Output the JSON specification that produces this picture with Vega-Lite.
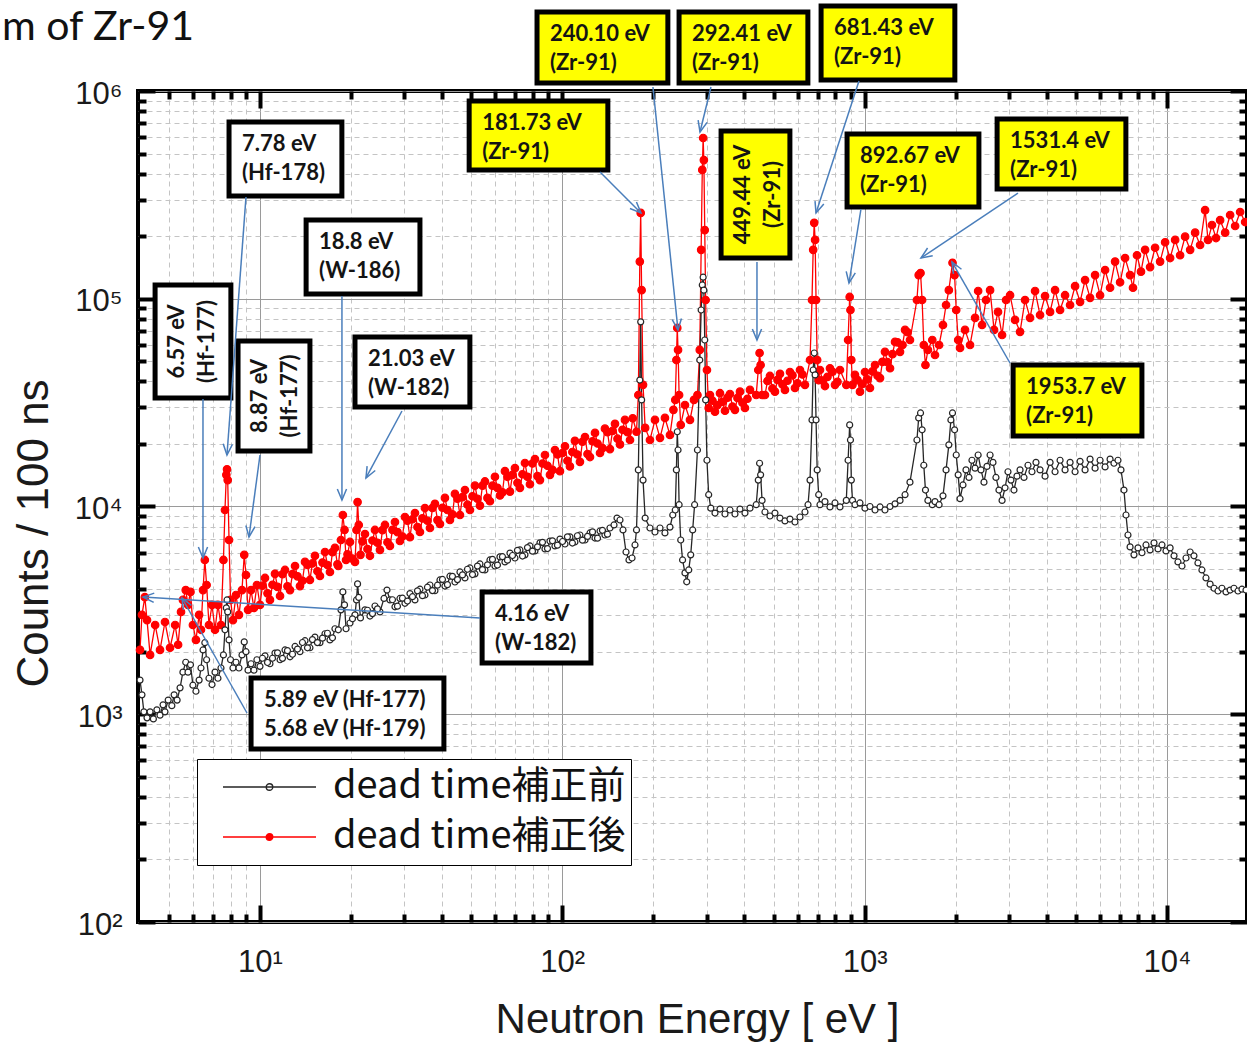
{
"$schema": "https://vega.github.io/schema/vega-lite/v6.json",
"width": 1109, "height": 831,
"autosize": "none",
"padding": {"left": 138, "top": 91, "right": 0, "bottom": 122},
"background": "white",
"title": {"text": "m of Zr-91", "anchor": "start", "frame": "group", "dx": -136, "offset": -78, "baseline": "alphabetic", "font": "Lato", "fontSize": 41, "fontWeight": "normal", "color": "#111111"},
"config": {
  "view": {"stroke": "black", "strokeWidth": 4},
  "axis": {"domain": false, "labelColor": "#1a1a1a", "titleColor": "#1a1a1a", "tickColor": "#000000", "tickCap": "butt"}
},
"resolve": {"axis": {"x": "independent", "y": "independent"}},
"datasets": {
"spec": [
{"E":4.01,"C":2040,"s":"後"},{"E":4.07,"C":3010,"s":"後"},{"E":4.16,"C":3660,"s":"後"},{"E":4.23,"C":2840,"s":"後"},{"E":4.33,"C":1930,"s":"後"},{"E":4.50,"C":2690,"s":"後"},{"E":4.67,"C":2040,"s":"後"},{"E":4.85,"C":2780,"s":"後"},{"E":5.04,"C":2090,"s":"後"},{"E":5.24,"C":2690,"s":"後"},{"E":5.36,"C":2160,"s":"後"},{"E":5.48,"C":3110,"s":"後"},{"E":5.56,"C":3550,"s":"後"},{"E":5.68,"C":3960,"s":"後"},{"E":5.78,"C":3360,"s":"後"},{"E":5.89,"C":3880,"s":"後"},{"E":6.00,"C":2690,"s":"後"},{"E":6.14,"C":2280,"s":"後"},{"E":6.29,"C":3010,"s":"後"},{"E":6.38,"C":2550,"s":"後"},{"E":6.48,"C":3960,"s":"後"},{"E":6.57,"C":5530,"s":"後"},{"E":6.66,"C":4190,"s":"後"},{"E":6.78,"C":2690,"s":"後"},{"E":6.94,"C":3360,"s":"後"},{"E":7.10,"C":2550,"s":"後"},{"E":7.26,"C":3360,"s":"後"},{"E":7.43,"C":2690,"s":"後"},{"E":7.57,"C":5530,"s":"後"},{"E":7.66,"C":9620,"s":"後"},{"E":7.74,"C":14200,"s":"後"},{"E":7.78,"C":15100,"s":"後"},{"E":7.82,"C":13400,"s":"後"},{"E":7.90,"C":6900,"s":"後"},{"E":7.99,"C":3550,"s":"後"},{"E":8.14,"C":2840,"s":"後"},{"E":8.33,"C":3750,"s":"後"},{"E":8.52,"C":3010,"s":"後"},{"E":8.72,"C":3960,"s":"後"},{"E":8.87,"C":5850,"s":"後"},{"E":8.99,"C":4680,"s":"後"},{"E":9.13,"C":3180,"s":"後"},{"E":9.34,"C":3960,"s":"後"},{"E":9.55,"C":3250,"s":"後"},{"E":9.77,"C":4190,"s":"後"},{"E":10.0,"C":3360,"s":"後"},
{"E":10.39,"C":4530,"s":"後"},{"E":10.79,"C":3550,"s":"後"},{"E":11.21,"C":4740,"s":"後"},{"E":11.65,"C":3710,"s":"後"},{"E":12.10,"C":4950,"s":"後"},{"E":12.57,"C":3960,"s":"後"},{"E":13.06,"C":5170,"s":"後"},{"E":13.56,"C":4140,"s":"後"},{"E":14.09,"C":5410,"s":"後"},{"E":14.63,"C":4430,"s":"後"},{"E":15.20,"C":5790,"s":"後"},{"E":15.79,"C":4630,"s":"後"},{"E":16.41,"C":6040,"s":"後"},{"E":17.04,"C":4840,"s":"後"},{"E":17.70,"C":6320,"s":"後"},{"E":18.16,"C":5170,"s":"後"},{"E":18.53,"C":6900,"s":"後"},{"E":18.8,"C":9100,"s":"後"},{"E":19.04,"C":7710,"s":"後"},{"E":19.26,"C":5530,"s":"後"},{"E":19.85,"C":6750,"s":"後"},{"E":20.62,"C":5410,"s":"後"},{"E":20.86,"C":7710,"s":"後"},{"E":21.03,"C":10500,"s":"後"},{"E":21.22,"C":8150,"s":"後"},{"E":21.50,"C":5850,"s":"後"},{"E":22.25,"C":7370,"s":"後"},{"E":23.11,"C":5790,"s":"後"},{"E":24.01,"C":7710,"s":"後"},{"E":24.94,"C":6180,"s":"後"},{"E":25.91,"C":8150,"s":"後"},{"E":26.91,"C":6460,"s":"後"},{"E":27.96,"C":8420,"s":"後"},{"E":29.04,"C":6820,"s":"後"},{"E":30.17,"C":8900,"s":"後"},{"E":31.34,"C":7120,"s":"後"},{"E":32.56,"C":9300,"s":"後"},{"E":33.82,"C":7540,"s":"後"},{"E":35.13,"C":9830,"s":"後"},{"E":36.50,"C":7880,"s":"後"},{"E":37.91,"C":10300,"s":"後"},{"E":39.39,"C":8240,"s":"後"},{"E":40.91,"C":11000,"s":"後"},{"E":42.50,"C":8610,"s":"後"},{"E":44.15,"C":11500,"s":"後"},{"E":45.87,"C":9100,"s":"後"},{"E":47.65,"C":12000,"s":"後"},{"E":49.50,"C":9620,"s":"後"},{"E":51.42,"C":12600,"s":"後"},{"E":53.41,"C":10100,"s":"後"},{"E":55.49,"C":13200,"s":"後"},{"E":57.64,"C":10600,"s":"後"},{"E":59.88,"C":13900,"s":"後"},{"E":62.20,"C":11300,"s":"後"},{"E":64.62,"C":14800,"s":"後"},{"E":67.13,"C":11800,"s":"後"},{"E":69.73,"C":15300,"s":"後"},{"E":72.44,"C":12300,"s":"後"},{"E":75.25,"C":16200,"s":"後"},{"E":78.17,"C":12800,"s":"後"},{"E":81.21,"C":16900,"s":"後"},{"E":84.36,"C":13400,"s":"後"},{"E":87.64,"C":17700,"s":"後"},{"E":91.04,"C":14200,"s":"後"},{"E":94.57,"C":18700,"s":"後"},{"E":98.25,"C":14800,"s":"後"},{"E":102.1,"C":19500,"s":"後"},{"E":106.0,"C":15600,"s":"後"},{"E":110.1,"C":20700,"s":"後"},{"E":114.4,"C":16400,"s":"後"},{"E":118.9,"C":21600,"s":"後"},{"E":123.5,"C":17300,"s":"後"},{"E":128.3,"C":22600,"s":"後"},{"E":133.3,"C":18100,"s":"後"},{"E":138.4,"C":23700,"s":"後"},{"E":143.8,"C":18900,"s":"後"},{"E":149.4,"C":25000,"s":"後"},{"E":155.2,"C":19900,"s":"後"},{"E":161.2,"C":26100,"s":"後"},{"E":167.5,"C":20900,"s":"後"},{"E":171.0,"C":26600,"s":"後"},
{"E":176.0,"C":22900,"s":"後"},{"E":178.5,"C":34400,"s":"後"},{"E":180.5,"C":151000,"s":"後"},{"E":181.73,"C":259000,"s":"後"},{"E":183.0,"C":110000,"s":"後"},{"E":185.0,"C":38500,"s":"後"},{"E":188.0,"C":23900,"s":"後"},{"E":195.0,"C":20900,"s":"後"},{"E":202.6,"C":26100,"s":"後"},{"E":210.5,"C":21400,"s":"後"},{"E":218.6,"C":26700,"s":"後"},{"E":227.1,"C":22100,"s":"後"},{"E":233.2,"C":29200,"s":"後"},{"E":236.5,"C":32600,"s":"後"},{"E":238.5,"C":50700,"s":"後"},{"E":240.1,"C":72400,"s":"後"},{"E":241.5,"C":56700,"s":"後"},{"E":243.5,"C":34400,"s":"後"},{"E":246.5,"C":24700,"s":"後"},{"E":254.6,"C":30800,"s":"後"},{"E":264.5,"C":26100,"s":"後"},{"E":272.7,"C":32600,"s":"後"},{"E":280.0,"C":34400,"s":"後"},{"E":285.0,"C":56700,"s":"後"},{"E":288.0,"C":172000,"s":"後"},{"E":290.5,"C":417000,"s":"後"},{"E":292.41,"C":594000,"s":"後"},{"E":294.0,"C":465000,"s":"後"},{"E":296.0,"C":214000,"s":"後"},{"E":298.0,"C":98600,"s":"後"},{"E":301.0,"C":45400,"s":"後"},{"E":305.0,"C":29800,"s":"後"},{"E":308.0,"C":34400,"s":"後"},{"E":320.0,"C":28600,"s":"後"},{"E":332.4,"C":35100,"s":"後"},{"E":345.3,"C":28900,"s":"後"},{"E":358.7,"C":34800,"s":"後"},{"E":372.6,"C":29200,"s":"後"},{"E":387.1,"C":35700,"s":"後"},{"E":402.1,"C":29800,"s":"後"},{"E":417.7,"C":36400,"s":"後"},{"E":438.0,"C":34400,"s":"後"},{"E":445.0,"C":45400,"s":"後"},{"E":449.44,"C":54800,"s":"後"},{"E":453.0,"C":48000,"s":"後"},{"E":458.0,"C":34400,"s":"後"},{"E":468.3,"C":34400,"s":"後"},{"E":486.4,"C":42500,"s":"後"},{"E":505.3,"C":35700,"s":"後"},{"E":525.0,"C":43500,"s":"後"},{"E":545.3,"C":36400,"s":"後"},{"E":566.5,"C":44400,"s":"後"},{"E":588.5,"C":37200,"s":"後"},{"E":611.4,"C":45400,"s":"後"},{"E":635.1,"C":38500,"s":"後"},{"E":660.0,"C":50700,"s":"後"},{"E":670.0,"C":98600,"s":"後"},{"E":676.0,"C":172000,"s":"後"},{"E":681.43,"C":232000,"s":"後"},{"E":686.0,"C":192000,"s":"後"},{"E":691.0,"C":98600,"s":"後"},{"E":697.0,"C":50700,"s":"後"},{"E":705.0,"C":40600,"s":"後"},{"E":712.0,"C":45400,"s":"後"},{"E":739.6,"C":38000,"s":"後"},{"E":768.3,"C":46300,"s":"後"},{"E":798.2,"C":38500,"s":"後"},{"E":829.2,"C":45400,"s":"後"},{"E":870.0,"C":38500,"s":"後"},{"E":882.0,"C":63300,"s":"後"},{"E":892.67,"C":102000,"s":"後"},{"E":898.0,"C":88300,"s":"後"},{"E":904.0,"C":50700,"s":"後"},{"E":912.0,"C":38500,"s":"後"},{"E":929.5,"C":43000,"s":"後"},{"E":965.6,"C":35700,"s":"後"},{"E":1003,"C":44400,"s":"後"},{"E":1042,"C":37200,"s":"後"},{"E":1083,"C":48000,"s":"後"},{"E":1125,"C":41500,"s":"後"},{"E":1168,"C":55500,"s":"後"},{"E":1214,"C":46300,"s":"後"},{"E":1261,"C":62000,"s":"後"},{"E":1310,"C":55500,"s":"後"},{"E":1361,"C":70800,"s":"後"},{"E":1413,"C":63300,"s":"後"},{"E":1490,"C":98600,"s":"後"},{"E":1510,"C":130000,"s":"後"},{"E":1531.4,"C":133000,"s":"後"},{"E":1550,"C":98600,"s":"後"},{"E":1570,"C":59900,"s":"後"},{"E":1590,"C":48000,"s":"後"},{"E":1620,"C":56700,"s":"後"},{"E":1675,"C":63300,"s":"後"},{"E":1710,"C":53600,"s":"後"},{"E":1764,"C":59900,"s":"後"},{"E":1817,"C":74800,"s":"後"},{"E":1860,"C":93300,"s":"後"},{"E":1900,"C":110000,"s":"後"},{"E":1953.7,"C":149000,"s":"後"},{"E":1985,"C":130000,"s":"後"},{"E":2010,"C":88300,"s":"後"},{"E":2040,"C":63300,"s":"後"},{"E":2069,"C":58000,"s":"後"},{"E":2149,"C":70800,"s":"後"},{"E":2233,"C":59900,"s":"後"},{"E":2320,"C":80900,"s":"後"},{"E":2375,"C":109000,"s":"後"},{"E":2447,"C":74800,"s":"後"},{"E":2522,"C":98600,"s":"後"},{"E":2601,"C":110000,"s":"後"},{"E":2681,"C":70800,"s":"後"},{"E":2763,"C":86400,"s":"後"},{"E":2850,"C":66900,"s":"後"},{"E":2938,"C":98600,"s":"後"},{"E":3029,"C":104000,"s":"後"},{"E":3146,"C":79100,"s":"後"},{"E":3268,"C":69300,"s":"後"},{"E":3395,"C":98600,"s":"後"},{"E":3527,"C":80900,"s":"後"},{"E":3664,"C":109000,"s":"後"},{"E":3806,"C":83500,"s":"後"},{"E":3954,"C":103000,"s":"後"},{"E":4108,"C":86400,"s":"後"},{"E":4267,"C":110000,"s":"後"},{"E":4433,"C":88300,"s":"後"},{"E":4605,"C":104000,"s":"後"},{"E":4784,"C":93300,"s":"後"},{"E":4970,"C":115000,"s":"後"},{"E":5163,"C":96600,"s":"後"},{"E":5363,"C":123000,"s":"後"},{"E":5571,"C":101000,"s":"後"},{"E":5788,"C":130000,"s":"後"},{"E":6012,"C":104000,"s":"後"},{"E":6246,"C":137500,"s":"後"},{"E":6488,"C":113000,"s":"後"},{"E":6740,"C":151000,"s":"後"},{"E":7002,"C":120000,"s":"後"},{"E":7274,"C":157000,"s":"後"},{"E":7556,"C":130000,"s":"後"},{"E":7725,"C":113000,"s":"後"},{"E":7964,"C":162000,"s":"後"},{"E":8210,"C":135000,"s":"後"},{"E":8471,"C":172000,"s":"後"},{"E":8800,"C":142000,"s":"後"},{"E":9142,"C":176000,"s":"後"},{"E":9497,"C":151000,"s":"後"},{"E":9866,"C":187000,"s":"後"},{"E":10250,"C":157000,"s":"後"},{"E":10650,"C":192000,"s":"後"},{"E":11060,"C":162000,"s":"後"},{"E":11490,"C":199000,"s":"後"},{"E":11940,"C":172000,"s":"後"},{"E":12400,"C":208000,"s":"後"},{"E":12880,"C":181500,"s":"後"},{"E":13380,"C":267000,"s":"後"},{"E":13680,"C":192000,"s":"後"},{"E":14100,"C":226500,"s":"後"},{"E":14540,"C":196000,"s":"後"},{"E":15000,"C":239000,"s":"後"},{"E":15590,"C":208000,"s":"後"},{"E":16190,"C":253000,"s":"後"},{"E":16820,"C":224000,"s":"後"},{"E":17470,"C":261500,"s":"後"},{"E":18150,"C":234000,"s":"後"},
{"E":10.19,"C":4160,"s":"後"},{"E":10.59,"C":3820,"s":"後"},{"E":11.00,"C":4200,"s":"後"},{"E":11.43,"C":4100,"s":"後"},{"E":11.87,"C":4720,"s":"後"},{"E":12.33,"C":4130,"s":"後"},{"E":12.81,"C":4730,"s":"後"},{"E":13.31,"C":4610,"s":"後"},{"E":13.82,"C":4390,"s":"後"},{"E":14.36,"C":5240,"s":"後"},{"E":14.91,"C":5320,"s":"後"},{"E":15.49,"C":4880,"s":"後"},{"E":16.10,"C":5370,"s":"後"},{"E":16.72,"C":5230,"s":"後"},{"E":17.37,"C":6030,"s":"後"},{"E":18.04,"C":5270,"s":"後"},{"E":19.48,"C":5890,"s":"後"},{"E":20.23,"C":5610,"s":"後"},{"E":21.83,"C":6790,"s":"後"},{"E":22.68,"C":6240,"s":"後"},{"E":23.56,"C":6860,"s":"後"},{"E":24.47,"C":6690,"s":"後"},{"E":25.42,"C":7700,"s":"後"},{"E":26.41,"C":6730,"s":"後"},{"E":27.43,"C":7720,"s":"後"},{"E":28.50,"C":7530,"s":"後"},{"E":29.60,"C":7170,"s":"後"},{"E":30.75,"C":8550,"s":"後"},{"E":31.95,"C":8680,"s":"後"},{"E":33.19,"C":7970,"s":"後"},{"E":34.47,"C":8770,"s":"後"},{"E":35.81,"C":8540,"s":"後"},{"E":37.20,"C":9840,"s":"後"},{"E":38.65,"C":8600,"s":"後"},{"E":40.15,"C":9860,"s":"後"},{"E":41.70,"C":9620,"s":"後"},{"E":43.32,"C":9160,"s":"後"},{"E":45.01,"C":10900,"s":"後"},{"E":46.76,"C":11100,"s":"後"},{"E":48.57,"C":10200,"s":"後"},{"E":50.46,"C":11200,"s":"後"},{"E":52.41,"C":10900,"s":"後"},{"E":54.45,"C":12600,"s":"後"},{"E":56.56,"C":11000,"s":"後"},{"E":58.76,"C":12600,"s":"後"},{"E":61.04,"C":12300,"s":"後"},{"E":63.41,"C":11700,"s":"後"},{"E":65.87,"C":13900,"s":"後"},{"E":68.43,"C":14200,"s":"後"},{"E":71.08,"C":13000,"s":"後"},{"E":73.84,"C":14300,"s":"後"},{"E":76.71,"C":13900,"s":"後"},{"E":79.69,"C":16100,"s":"後"},{"E":82.78,"C":14000,"s":"後"},{"E":86.00,"C":16100,"s":"後"},{"E":89.34,"C":15700,"s":"後"},{"E":92.80,"C":15000,"s":"後"},{"E":96.41,"C":17800,"s":"後"},{"E":100.2,"C":18100,"s":"後"},{"E":104.0,"C":16600,"s":"後"},{"E":108.0,"C":18300,"s":"後"},{"E":112.2,"C":17800,"s":"後"},{"E":116.6,"C":20500,"s":"後"},{"E":121.2,"C":17900,"s":"後"},{"E":125.9,"C":20600,"s":"後"},{"E":130.8,"C":20100,"s":"後"},{"E":135.8,"C":19100,"s":"後"},{"E":141.1,"C":22800,"s":"後"},{"E":146.6,"C":23100,"s":"後"},{"E":152.3,"C":21200,"s":"後"},{"E":158.2,"C":23400,"s":"後"},{"E":164.3,"C":22800,"s":"後"},
{"E":314,"C":32300,"s":"後"},{"E":326,"C":30700,"s":"後"},{"E":338.8,"C":31900,"s":"後"},{"E":352,"C":33400,"s":"後"},{"E":365.6,"C":30300,"s":"後"},{"E":379.8,"C":33300,"s":"後"},{"E":394.5,"C":31600,"s":"後"},{"E":409.8,"C":33000,"s":"後"},{"E":477.3,"C":40200,"s":"後"},{"E":495.8,"C":37000,"s":"後"},{"E":515.1,"C":40700,"s":"後"},{"E":535.1,"C":38700,"s":"後"},{"E":555.8,"C":40300,"s":"後"},{"E":577.4,"C":42800,"s":"後"},{"E":599.9,"C":39200,"s":"後"},{"E":623.1,"C":43200,"s":"後"},{"E":725.7,"C":40400,"s":"後"},{"E":753.9,"C":42100,"s":"後"},{"E":783.2,"C":44500,"s":"後"},{"E":813.6,"C":39800,"s":"後"},{"E":947.4,"C":40600,"s":"後"},{"E":984.2,"C":38900,"s":"後"},{"E":1022,"C":40900,"s":"後"},{"E":1062,"C":44700,"s":"後"},{"E":1104,"C":42600,"s":"後"},{"E":1146,"C":49700,"s":"後"},{"E":1191,"C":49500,"s":"後"},{"E":1237,"C":54100,"s":"後"},{"E":1285,"C":61700,"s":"後"},{"E":1335,"C":59900,"s":"後"},{"E":1387,"C":69000,"s":"後"},
{"E":4.01,"C":1460,"s":"前"},{"E":4.07,"C":1240,"s":"前"},{"E":4.13,"C":1027,"s":"前"},{"E":4.23,"C":961,"s":"前"},{"E":4.33,"C":1027,"s":"前"},{"E":4.44,"C":950,"s":"前"},{"E":4.56,"C":1050,"s":"前"},{"E":4.67,"C":990,"s":"前"},{"E":4.78,"C":1110,"s":"前"},{"E":4.85,"C":1027,"s":"前"},{"E":4.97,"C":1170,"s":"前"},{"E":5.11,"C":1100,"s":"前"},{"E":5.20,"C":1240,"s":"前"},{"E":5.32,"C":1170,"s":"前"},{"E":5.44,"C":1340,"s":"前"},{"E":5.56,"C":1595,"s":"前"},{"E":5.68,"C":1780,"s":"前"},{"E":5.78,"C":1595,"s":"前"},{"E":5.89,"C":1730,"s":"前"},{"E":6.00,"C":1380,"s":"前"},{"E":6.14,"C":1290,"s":"前"},{"E":6.29,"C":1460,"s":"前"},{"E":6.38,"C":1670,"s":"前"},{"E":6.48,"C":2040,"s":"前"},{"E":6.57,"C":2210,"s":"前"},{"E":6.66,"C":1830,"s":"前"},{"E":6.78,"C":1490,"s":"前"},{"E":6.94,"C":1390,"s":"前"},{"E":7.10,"C":1595,"s":"前"},{"E":7.26,"C":1490,"s":"前"},{"E":7.43,"C":1670,"s":"前"},{"E":7.57,"C":1930,"s":"前"},{"E":7.66,"C":2550,"s":"前"},{"E":7.74,"C":3250,"s":"前"},{"E":7.78,"C":3550,"s":"前"},{"E":7.82,"C":3110,"s":"前"},{"E":7.90,"C":2280,"s":"前"},{"E":7.99,"C":1830,"s":"前"},{"E":8.14,"C":1670,"s":"前"},{"E":8.33,"C":1780,"s":"前"},{"E":8.52,"C":1670,"s":"前"},{"E":8.72,"C":1930,"s":"前"},{"E":8.87,"C":2230,"s":"前"},{"E":8.99,"C":2000,"s":"前"},{"E":9.13,"C":1630,"s":"前"},{"E":9.34,"C":1750,"s":"前"},{"E":9.55,"C":1630,"s":"前"},{"E":9.77,"C":1830,"s":"前"},{"E":10.0,"C":1700,"s":"前"},
{"E":10.39,"C":1910,"s":"前"},{"E":10.79,"C":1750,"s":"前"},{"E":11.21,"C":1970,"s":"前"},{"E":11.65,"C":1830,"s":"前"},{"E":12.10,"C":2040,"s":"前"},{"E":12.57,"C":1890,"s":"前"},{"E":13.06,"C":2120,"s":"前"},{"E":13.56,"C":2000,"s":"前"},{"E":14.09,"C":2260,"s":"前"},{"E":14.63,"C":2090,"s":"前"},{"E":15.20,"C":2350,"s":"前"},{"E":15.79,"C":2210,"s":"前"},{"E":16.41,"C":2440,"s":"前"},{"E":17.04,"C":2280,"s":"前"},{"E":17.70,"C":2580,"s":"前"},{"E":18.16,"C":2550,"s":"前"},{"E":18.53,"C":3180,"s":"前"},{"E":18.8,"C":3880,"s":"前"},{"E":19.04,"C":3360,"s":"前"},{"E":19.26,"C":2580,"s":"前"},{"E":19.85,"C":2750,"s":"前"},{"E":20.62,"C":3010,"s":"前"},{"E":20.86,"C":3550,"s":"前"},{"E":21.03,"C":4240,"s":"前"},{"E":21.22,"C":3650,"s":"前"},{"E":21.50,"C":2910,"s":"前"},{"E":22.25,"C":3180,"s":"前"},{"E":23.11,"C":2970,"s":"前"},{"E":24.01,"C":3320,"s":"前"},{"E":24.94,"C":3110,"s":"前"},{"E":25.72,"C":3610,"s":"前"},{"E":26.31,"C":3960,"s":"前"},{"E":26.91,"C":3550,"s":"前"},{"E":27.96,"C":3290,"s":"前"},{"E":29.04,"C":3610,"s":"前"},{"E":30.17,"C":3420,"s":"前"},{"E":31.34,"C":3810,"s":"前"},{"E":32.56,"C":3550,"s":"前"},{"E":33.82,"C":4000,"s":"前"},{"E":35.13,"C":3750,"s":"前"},{"E":36.50,"C":4190,"s":"前"},{"E":37.91,"C":3930,"s":"前"},{"E":39.39,"C":4430,"s":"前"},{"E":40.91,"C":4140,"s":"前"},{"E":42.50,"C":4620,"s":"前"},{"E":44.15,"C":4330,"s":"前"},{"E":45.87,"C":4840,"s":"前"},{"E":47.65,"C":4530,"s":"前"},{"E":49.50,"C":5060,"s":"前"},{"E":51.42,"C":4740,"s":"前"},{"E":53.41,"C":5290,"s":"前"},{"E":55.49,"C":4950,"s":"前"},{"E":57.64,"C":5530,"s":"前"},{"E":59.88,"C":5170,"s":"前"},{"E":62.20,"C":5720,"s":"前"},{"E":64.62,"C":5410,"s":"前"},{"E":67.13,"C":5970,"s":"前"},{"E":69.73,"C":5650,"s":"前"},{"E":72.44,"C":6180,"s":"前"},{"E":75.25,"C":5850,"s":"前"},{"E":78.17,"C":6460,"s":"前"},{"E":81.21,"C":6110,"s":"前"},{"E":84.36,"C":6680,"s":"前"},{"E":87.64,"C":6250,"s":"前"},{"E":91.04,"C":6820,"s":"前"},{"E":94.57,"C":6460,"s":"前"},{"E":98.25,"C":6970,"s":"前"},{"E":102.1,"C":6600,"s":"前"},{"E":106.0,"C":7140,"s":"前"},{"E":110.1,"C":6750,"s":"前"},{"E":114.4,"C":7290,"s":"前"},{"E":118.9,"C":6900,"s":"前"},{"E":123.5,"C":7460,"s":"前"},{"E":128.3,"C":7050,"s":"前"},{"E":133.3,"C":7620,"s":"前"},{"E":138.4,"C":7290,"s":"前"},{"E":143.8,"C":7880,"s":"前"},{"E":148.3,"C":8150,"s":"前"},{"E":151.7,"C":8800,"s":"前"},{"E":155.2,"C":8610,"s":"前"},{"E":158.8,"C":7710,"s":"前"},{"E":162.5,"C":6040,"s":"前"},{"E":166.2,"C":5530,"s":"前"},{"E":170.1,"C":5650,"s":"前"},{"E":174.0,"C":6530,"s":"前"},
{"E":176.0,"C":7710,"s":"前"},{"E":178.5,"C":15000,"s":"前"},{"E":180.5,"C":40600,"s":"前"},{"E":181.73,"C":77400,"s":"前"},{"E":183.0,"C":32600,"s":"前"},{"E":185.0,"C":13400,"s":"前"},{"E":188.0,"C":8800,"s":"前"},{"E":195.0,"C":7880,"s":"前"},{"E":202.6,"C":7540,"s":"前"},{"E":210.5,"C":7880,"s":"前"},{"E":218.6,"C":7460,"s":"前"},{"E":227.1,"C":7960,"s":"前"},{"E":232.0,"C":9100,"s":"前"},{"E":236.5,"C":9620,"s":"前"},{"E":238.5,"C":15000,"s":"前"},{"E":240.1,"C":22900,"s":"前"},{"E":241.5,"C":18700,"s":"前"},{"E":243.5,"C":10200,"s":"前"},{"E":246.5,"C":6900,"s":"前"},{"E":250.0,"C":5530,"s":"前"},{"E":254.6,"C":4790,"s":"前"},{"E":258.0,"C":4340,"s":"前"},{"E":262.0,"C":4950,"s":"前"},{"E":266.0,"C":5850,"s":"前"},{"E":270.0,"C":7710,"s":"前"},{"E":274.0,"C":10200,"s":"前"},{"E":280.0,"C":18700,"s":"前"},{"E":285.0,"C":50700,"s":"前"},{"E":288.0,"C":88300,"s":"前"},{"E":290.5,"C":116500,"s":"前"},{"E":292.41,"C":127000,"s":"前"},{"E":294.0,"C":110000,"s":"前"},{"E":296.0,"C":63300,"s":"前"},{"E":298.0,"C":32600,"s":"前"},{"E":301.0,"C":16700,"s":"前"},{"E":305.0,"C":11400,"s":"前"},{"E":310.0,"C":9820,"s":"前"},{"E":320.0,"C":9300,"s":"前"},{"E":332.4,"C":9720,"s":"前"},{"E":345.3,"C":9200,"s":"前"},{"E":358.7,"C":9620,"s":"前"},{"E":372.6,"C":9200,"s":"前"},{"E":387.1,"C":9720,"s":"前"},{"E":402.1,"C":9300,"s":"前"},{"E":417.7,"C":9820,"s":"前"},{"E":438.0,"C":10200,"s":"前"},{"E":445.0,"C":13400,"s":"前"},{"E":449.44,"C":16150,"s":"前"},{"E":453.0,"C":14200,"s":"前"},{"E":458.0,"C":10700,"s":"前"},{"E":468.3,"C":9410,"s":"前"},{"E":486.4,"C":9000,"s":"前"},{"E":505.3,"C":9300,"s":"前"},{"E":525.0,"C":8800,"s":"前"},{"E":545.3,"C":8520,"s":"前"},{"E":566.5,"C":8700,"s":"前"},{"E":588.5,"C":8420,"s":"前"},{"E":611.4,"C":8900,"s":"前"},{"E":635.1,"C":9410,"s":"前"},{"E":650.0,"C":10200,"s":"前"},{"E":660.0,"C":13400,"s":"前"},{"E":670.0,"C":26100,"s":"前"},{"E":676.0,"C":45400,"s":"前"},{"E":681.43,"C":54800,"s":"前"},{"E":686.0,"C":43000,"s":"前"},{"E":691.0,"C":26100,"s":"前"},{"E":697.0,"C":15000,"s":"前"},{"E":705.0,"C":11400,"s":"前"},{"E":712.0,"C":10200,"s":"前"},{"E":739.6,"C":10550,"s":"前"},{"E":768.3,"C":9950,"s":"前"},{"E":798.2,"C":10400,"s":"前"},{"E":829.2,"C":9950,"s":"前"},{"E":870.0,"C":10700,"s":"前"},{"E":882.0,"C":16700,"s":"前"},{"E":892.67,"C":24700,"s":"前"},{"E":898.0,"C":20900,"s":"前"},{"E":904.0,"C":13400,"s":"前"},{"E":912.0,"C":10700,"s":"前"},{"E":929.5,"C":10200,"s":"前"},{"E":965.6,"C":10400,"s":"前"},{"E":1003,"C":9820,"s":"前"},{"E":1042,"C":10000,"s":"前"},{"E":1083,"C":9620,"s":"前"},{"E":1125,"C":9950,"s":"前"},{"E":1168,"C":9620,"s":"前"},{"E":1214,"C":10000,"s":"前"},{"E":1261,"C":10300,"s":"前"},{"E":1310,"C":10700,"s":"前"},{"E":1361,"C":11400,"s":"前"},{"E":1413,"C":13100,"s":"前"},{"E":1490,"C":20900,"s":"前"},{"E":1510,"C":26700,"s":"前"},{"E":1531.4,"C":28200,"s":"前"},{"E":1550,"C":23400,"s":"前"},{"E":1570,"C":15800,"s":"前"},{"E":1590,"C":12000,"s":"前"},{"E":1620,"C":10700,"s":"前"},{"E":1675,"C":10200,"s":"前"},{"E":1710,"C":10550,"s":"前"},{"E":1764,"C":10200,"s":"前"},{"E":1817,"C":11250,"s":"前"},{"E":1860,"C":15000,"s":"前"},{"E":1900,"C":19800,"s":"前"},{"E":1930,"C":26100,"s":"前"},{"E":1953.7,"C":28200,"s":"前"},{"E":1985,"C":23400,"s":"前"},{"E":2010,"C":17700,"s":"前"},{"E":2040,"C":14200,"s":"前"},{"E":2069,"C":10900,"s":"前"},{"E":2116,"C":12700,"s":"前"},{"E":2165,"C":15000,"s":"前"},{"E":2215,"C":13800,"s":"前"},{"E":2266,"C":16700,"s":"前"},{"E":2320,"C":15300,"s":"前"},{"E":2375,"C":17700,"s":"前"},{"E":2427,"C":15000,"s":"前"},{"E":2483,"C":13100,"s":"前"},{"E":2540,"C":15600,"s":"前"},{"E":2601,"C":17700,"s":"前"},{"E":2659,"C":16300,"s":"前"},{"E":2720,"C":13800,"s":"前"},{"E":2783,"C":12000,"s":"前"},{"E":2850,"C":10700,"s":"前"},{"E":2915,"C":12300,"s":"前"},{"E":2981,"C":14700,"s":"前"},{"E":3050,"C":13400,"s":"前"},{"E":3120,"C":12000,"s":"前"},{"E":3192,"C":14000,"s":"前"},{"E":3268,"C":15000,"s":"前"},{"E":3368,"C":13800,"s":"前"},{"E":3472,"C":15800,"s":"前"},{"E":3579,"C":14700,"s":"前"},{"E":3690,"C":16300,"s":"前"},{"E":3806,"C":15000,"s":"前"},{"E":3954,"C":14000,"s":"前"},{"E":4108,"C":16300,"s":"前"},{"E":4267,"C":14700,"s":"前"},{"E":4433,"C":16700,"s":"前"},{"E":4605,"C":15000,"s":"前"},{"E":4784,"C":16300,"s":"前"},{"E":4970,"C":14700,"s":"前"},{"E":5163,"C":16500,"s":"前"},{"E":5363,"C":15000,"s":"前"},{"E":5571,"C":16900,"s":"前"},{"E":5788,"C":15300,"s":"前"},{"E":6012,"C":16700,"s":"前"},{"E":6246,"C":15500,"s":"前"},{"E":6488,"C":16900,"s":"前"},{"E":6683,"C":16150,"s":"前"},{"E":6890,"C":16700,"s":"前"},{"E":7050,"C":15000,"s":"前"},{"E":7213,"C":12000,"s":"前"},{"E":7324,"C":9100,"s":"前"},{"E":7435,"C":7290,"s":"前"},{"E":7556,"C":6390,"s":"前"},{"E":7784,"C":5850,"s":"前"},{"E":8025,"C":6320,"s":"前"},{"E":8273,"C":5990,"s":"前"},{"E":8530,"C":6530,"s":"前"},{"E":8800,"C":6180,"s":"前"},{"E":9066,"C":6680,"s":"前"},{"E":9347,"C":6250,"s":"前"},{"E":9634,"C":6530,"s":"前"},{"E":9932,"C":6110,"s":"前"},{"E":10250,"C":6320,"s":"前"},{"E":10560,"C":5790,"s":"前"},{"E":10880,"C":5410,"s":"前"},{"E":11220,"C":5170,"s":"前"},{"E":11570,"C":5650,"s":"前"},{"E":11940,"C":6040,"s":"前"},{"E":12290,"C":5790,"s":"前"},{"E":12670,"C":5350,"s":"前"},{"E":13060,"C":4950,"s":"前"},{"E":13470,"C":4530,"s":"前"},{"E":13900,"C":4230,"s":"前"},{"E":14320,"C":4040,"s":"前"},{"E":14760,"C":3920,"s":"前"},{"E":15210,"C":4040,"s":"前"},{"E":15690,"C":3880,"s":"前"},{"E":16190,"C":3960,"s":"前"},{"E":16670,"C":4040,"s":"前"},{"E":17190,"C":3920,"s":"前"},{"E":17720,"C":4000,"s":"前"},{"E":18270,"C":3960,"s":"前"},
{"E":10.19,"C":1860,"s":"前"},{"E":10.59,"C":1775,"s":"前"},{"E":11.00,"C":1860,"s":"前"},{"E":11.43,"C":1976,"s":"前"},{"E":11.87,"C":1858,"s":"前"},{"E":12.33,"C":2024,"s":"前"},{"E":12.81,"C":1945,"s":"前"},{"E":13.31,"C":2060,"s":"前"},{"E":13.82,"C":2215,"s":"前"},{"E":14.36,"C":2088,"s":"前"},{"E":14.91,"C":2287,"s":"前"},{"E":15.49,"C":2212,"s":"前"},{"E":16.10,"C":2325,"s":"前"},{"E":16.72,"C":2454,"s":"前"},{"E":17.37,"C":2333,"s":"前"},{"E":20.23,"C":2880,"s":"前"},{"E":22.68,"C":3167,"s":"前"},{"E":23.56,"C":3051,"s":"前"},{"E":24.47,"C":3215,"s":"前"},{"E":27.43,"C":3557,"s":"前"},{"E":28.50,"C":3312,"s":"前"},{"E":29.60,"C":3620,"s":"前"},{"E":30.75,"C":3507,"s":"前"},{"E":31.95,"C":3680,"s":"前"},{"E":33.19,"C":3926,"s":"前"},{"E":34.47,"C":3720,"s":"前"},{"E":35.81,"C":4089,"s":"前"},{"E":37.20,"C":3938,"s":"前"},{"E":38.65,"C":4180,"s":"前"},{"E":40.15,"C":4456,"s":"前"},{"E":41.70,"C":4205,"s":"前"},{"E":43.32,"C":4609,"s":"前"},{"E":45.01,"C":4447,"s":"前"},{"E":46.76,"C":4685,"s":"前"},{"E":48.57,"C":4987,"s":"前"},{"E":50.46,"C":4704,"s":"前"},{"E":52.41,"C":5165,"s":"前"},{"E":54.45,"C":4966,"s":"前"},{"E":56.56,"C":5240,"s":"前"},{"E":58.76,"C":5564,"s":"前"},{"E":61.04,"C":5227,"s":"前"},{"E":63.41,"C":5732,"s":"前"},{"E":65.87,"C":5519,"s":"前"},{"E":68.43,"C":5810,"s":"前"},{"E":71.08,"C":6152,"s":"前"},{"E":73.84,"C":5774,"s":"前"},{"E":76.71,"C":6340,"s":"前"},{"E":79.69,"C":6096,"s":"前"},{"E":82.78,"C":6395,"s":"前"},{"E":86.00,"C":6724,"s":"前"},{"E":89.34,"C":6274,"s":"前"},{"E":92.80,"C":6839,"s":"前"},{"E":96.41,"C":6514,"s":"前"},{"E":100.2,"C":6785,"s":"前"},{"E":104.0,"C":7145,"s":"前"},{"E":108.0,"C":6667,"s":"前"},{"E":112.2,"C":7231,"s":"前"},{"E":116.6,"C":6882,"s":"前"},{"E":121.2,"C":7180,"s":"前"},{"E":125.9,"C":7545,"s":"前"},{"E":130.8,"C":7042,"s":"前"},{"E":135.8,"C":7679,"s":"前"},{"E":141.1,"C":7357,"s":"前"}
],
"notes": [
{"l1":"240.10 eV","l2":"(Zr-91)","grp":"Zr","o":"h","e0":82.5,"e1":223.5,"c0":2401000,"c1":1092500,"tE":199.5,"tC":1045000,"hE":241.4,"hC":70720},
{"l1":"292.41 eV","l2":"(Zr-91)","grp":"Zr","o":"h","e0":243.4,"e1":649.3,"c0":2401000,"c1":1092500,"tE":310.4,"tC":1045000,"hE":285.5,"hC":634800},
{"l1":"681.43 eV","l2":"(Zr-91)","grp":"Zr","o":"h","e0":718,"e1":1989,"c0":2567000,"c1":1129000,"tE":958.2,"tC":1117000,"hE":690.8,"hC":258700},
{"l1":"181.73 eV","l2":"(Zr-91)","grp":"Zr","o":"h","e0":49.2,"e1":141.5,"c0":895500,"c1":416600,"tE":133.3,"tC":407600,"hE":182.1,"hC":258700},
{"l1":"449.44 eV","l2":"(Zr-91)","grp":"Zr","o":"v","e0":335.2,"e1":566.2,"c0":642400,"c1":157100,"tE":440.6,"tC":150300,"hE":440.6,"hC":63310},
{"l1":"892.67 eV","l2":"(Zr-91)","grp":"Zr","o":"h","e0":875.1,"e1":2389,"c0":621100,"c1":276300,"tE":972.9,"tC":270400,"hE":888.1,"hC":119100},
{"l1":"1531.4 eV","l2":"(Zr-91)","grp":"Zr","o":"h","e0":2744,"e1":7318,"c0":733500,"c1":337500,"tE":3217,"tC":322800,"hE":1537,"hC":157100},
{"l1":"1953.7 eV","l2":"(Zr-91)","grp":"Zr","o":"h","e0":3100,"e1":8269,"c0":48000,"c1":21830,"tE":3027,"tC":49060,"hE":1946,"hC":150300},
{"l1":"7.78 eV","l2":"(Hf-178)","grp":"other","o":"h","e0":7.90,"e1":18.66,"c0":709500,"c1":312100,"tE":8.989,"tC":308800,"hE":7.777,"hC":17700},
{"l1":"18.8 eV","l2":"(W-186)","grp":"other","o":"h","e0":14.21,"e1":33.82,"c0":239400,"c1":105400,"tE":18.67,"tC":103100,"hE":18.67,"hC":10750},
{"l1":"21.03 eV","l2":"(W-182)","grp":"other","o":"h","e0":20.62,"e1":49.47,"c0":65470,"c1":30120,"tE":29.49,"tC":28820,"hE":22.42,"hC":13720},
{"l1":"6.57 eV","l2":"(Hf-177)","grp":"other","o":"v","e0":4.498,"e1":8.012,"c0":116500,"c1":33280,"tE":6.478,"tC":32920,"hE":6.478,"hC":5651},
{"l1":"8.87 eV","l2":"(Hf-177)","grp":"other","o":"v","e0":8.461,"e1":14.63,"c0":62650,"c1":18490,"tE":10,"tC":17700,"hE":9.196,"hC":7133},
{"l1":"4.16 eV","l2":"(W-182)","grp":"other","o":"h","e0":54.30,"e1":124.4,"c0":3879,"c1":1764,"tE":53.44,"tC":2906,"hE":4.102,"hC":3667},
{"l1":"5.89 eV (Hf-177)","l2":"5.68 eV (Hf-179)","grp":"other","o":"h","e0":9.343,"e1":40.59,"c0":1495,"c1":680.2,"tE":9.058,"tC":1014,"hE":5.521,"hC":3627}
]
},
"layer": [
{
  "data": {"name": "spec"},
  "mark": {"type": "line", "strokeWidth": 1.3},
  "encoding": {
    "x": {"field": "E", "type": "quantitative", "scale": {"type": "log", "domain": [3.949, 18410], "nice": false},
      "axis": {"orient": "bottom", "values": [10, 100, 1000, 10000], "labelExpr": "'10' + ['⁰','¹','²','³','⁴','⁵','⁶'][round(log(datum.value)/LN10)]", "ticks": false, "grid": true, "gridColor": "#9a9a9a", "gridWidth": 1, "labelFont": "Liberation Sans", "labelFontSize": 31, "labelPadding": 40, "labelBaseline": "middle", "labelFlush": false, "title": "Neutron Energy [ eV ]", "titleFont": "Liberation Sans", "titleFontSize": 42, "titleFontWeight": "normal", "titleX": 559, "titleY": 110, "titleBaseline": "alphabetic", "titleAlign": "center"}},
    "y": {"field": "C", "type": "quantitative", "scale": {"type": "log", "domain": [100, 1000000], "nice": false},
      "axis": {"orient": "left", "values": [100, 1000, 10000, 100000, 1000000], "labelExpr": "'10' + ['⁰','¹','²','³','⁴','⁵','⁶'][round(log(datum.value)/LN10)]", "ticks": false, "grid": true, "gridColor": "#9a9a9a", "gridWidth": 1, "labelFont": "Liberation Sans", "labelFontSize": 31, "labelPadding": 16, "labelOffset": 3, "labelAlign": "right", "labelBaseline": "middle", "title": "Counts / 100 ns", "titleFont": "Liberation Sans", "titleFontSize": 44, "titleFontWeight": "normal", "titleX": -91, "titleY": 442, "titleAngle": 270, "titleBaseline": "alphabetic", "titleAlign": "center"}},
    "stroke": {"field": "s", "type": "nominal", "scale": {"domain": ["前", "後"], "range": ["#262626", "#ff0000"]},
      "legend": {"title": null, "orient": "none", "legendX": 59, "legendY": 668, "labelExpr": "'dead time補正' + datum.label", "labelFont": "Noto Sans CJK JP", "labelFontSize": 38, "labelColor": "#111111", "labelLimit": 600, "labelOffset": 16, "symbolType": "M-0.646,0L1,0M0.235,0A0.058,0.058,0,1,1,0.119,0A0.058,0.058,0,1,1,0.235,0", "symbolSize": 12769, "symbolStrokeWidth": 1.4, "clipHeight": 46, "rowPadding": 4, "padding": 5, "strokeColor": "#000000", "fillColor": "#ffffff"}}
  }
},
{
  "data": {"name": "spec"},
  "transform": [{"filter": "datum.s == '後'"}],
  "mark": {"type": "circle", "size": 56, "strokeWidth": 1.2, "opacity": 1},
  "encoding": {
    "x": {"field": "E", "type": "quantitative", "scale": {"type": "log", "domain": [3.949, 18410], "nice": false},
      "axis": {"orient": "bottom", "values": [5,6,7,8,9,20,30,40,50,60,70,80,90,200,300,400,500,600,700,800,900,2000,3000,4000,5000,6000,7000,8000,9000], "labels": false, "ticks": true, "tickSize": -8, "tickWidth": 4, "grid": true, "gridDash": [5, 4], "gridColor": "#c4c4c4", "gridWidth": 1, "title": null}},
    "y": {"field": "C", "type": "quantitative", "scale": {"type": "log", "domain": [100, 1000000], "nice": false},
      "axis": {"orient": "left", "values": [200,300,400,500,600,700,800,900,2000,3000,4000,5000,6000,7000,8000,9000,20000,30000,40000,50000,60000,70000,80000,90000,200000,300000,400000,500000,600000,700000,800000,900000], "labels": false, "ticks": true, "tickSize": -8, "tickWidth": 4, "grid": true, "gridDash": [5, 4], "gridColor": "#c4c4c4", "gridWidth": 1, "title": null}},
    "fill": {"field": "s", "type": "nominal", "scale": {"domain": ["前", "後"], "range": ["#ffffff", "#ff0000"]},
      "legend": {"title": null, "orient": "none", "legendX": 59, "legendY": 668, "labelExpr": "'dead time補正' + datum.label", "labelFont": "Noto Sans CJK JP", "labelFontSize": 38, "labelColor": "#111111", "labelLimit": 600, "labelOffset": 16, "symbolType": "M-0.646,0L1,0M0.235,0A0.058,0.058,0,1,1,0.119,0A0.058,0.058,0,1,1,0.235,0", "symbolSize": 12769, "symbolStrokeWidth": 1.4, "clipHeight": 46, "rowPadding": 4, "padding": 5, "strokeColor": "#000000", "fillColor": "#ffffff"}},
    "stroke": {"field": "s", "type": "nominal", "scale": {"domain": ["前", "後"], "range": ["#262626", "#ff0000"]},
      "legend": {"title": null, "orient": "none", "legendX": 59, "legendY": 668, "labelExpr": "'dead time補正' + datum.label", "labelFont": "Noto Sans CJK JP", "labelFontSize": 38, "labelColor": "#111111", "labelLimit": 600, "labelOffset": 16, "symbolType": "M-0.646,0L1,0M0.235,0A0.058,0.058,0,1,1,0.119,0A0.058,0.058,0,1,1,0.235,0", "symbolSize": 12769, "symbolStrokeWidth": 1.4, "clipHeight": 46, "rowPadding": 4, "padding": 5, "strokeColor": "#000000", "fillColor": "#ffffff"}}
  }
},
{
  "data": {"name": "spec"},
  "transform": [{"filter": "datum.s == '前'"}],
  "mark": {"type": "circle", "size": 36, "strokeWidth": 1.2, "opacity": 1},
  "encoding": {
    "x": {"field": "E", "type": "quantitative", "scale": {"type": "log", "domain": [3.949, 18410], "nice": false}, "axis": null},
    "y": {"field": "C", "type": "quantitative", "scale": {"type": "log", "domain": [100, 1000000], "nice": false}, "axis": null},
    "fill": {"field": "s", "type": "nominal", "scale": {"domain": ["前", "後"], "range": ["#ffffff", "#ff0000"]},
      "legend": {"title": null, "orient": "none", "legendX": 59, "legendY": 668, "labelExpr": "'dead time補正' + datum.label", "labelFont": "Noto Sans CJK JP", "labelFontSize": 38, "labelColor": "#111111", "labelLimit": 600, "labelOffset": 16, "symbolType": "M-0.646,0L1,0M0.235,0A0.058,0.058,0,1,1,0.119,0A0.058,0.058,0,1,1,0.235,0", "symbolSize": 12769, "symbolStrokeWidth": 1.4, "clipHeight": 46, "rowPadding": 4, "padding": 5, "strokeColor": "#000000", "fillColor": "#ffffff"}},
    "stroke": {"field": "s", "type": "nominal", "scale": {"domain": ["前", "後"], "range": ["#262626", "#ff0000"]},
      "legend": {"title": null, "orient": "none", "legendX": 59, "legendY": 668, "labelExpr": "'dead time補正' + datum.label", "labelFont": "Noto Sans CJK JP", "labelFontSize": 38, "labelColor": "#111111", "labelLimit": 600, "labelOffset": 16, "symbolType": "M-0.646,0L1,0M0.235,0A0.058,0.058,0,1,1,0.119,0A0.058,0.058,0,1,1,0.235,0", "symbolSize": 12769, "symbolStrokeWidth": 1.4, "clipHeight": 46, "rowPadding": 4, "padding": 5, "strokeColor": "#000000", "fillColor": "#ffffff"}}
  }
},
{
  "data": {"name": "notes"},
  "transform": [{"filter": "datum.grp == 'Zr'"}],
  "mark": {"type": "rect", "fill": "#ffff00", "stroke": "#000000", "strokeWidth": 5},
  "encoding": {
    "x": {"field": "e0", "type": "quantitative", "scale": {"type": "log", "domain": [3.949, 18410], "nice": false},
      "axis": {"orient": "bottom", "values": [10, 100, 1000, 10000], "labels": false, "ticks": true, "tickSize": -17, "tickWidth": 4, "grid": false, "title": null}},
    "x2": {"field": "e1"},
    "y": {"field": "c0", "type": "quantitative", "scale": {"type": "log", "domain": [100, 1000000], "nice": false},
      "axis": {"orient": "left", "values": [100, 1000, 10000, 100000, 1000000], "labels": false, "ticks": true, "tickSize": -17, "tickWidth": 4, "grid": false, "title": null}},
    "y2": {"field": "c1"}
  }
},
{
  "data": {"name": "notes"},
  "transform": [{"filter": "datum.grp != 'Zr'"}],
  "mark": {"type": "rect", "fill": "#ffffff", "stroke": "#000000", "strokeWidth": 5},
  "encoding": {
    "x": {"field": "e0", "type": "quantitative", "scale": {"type": "log", "domain": [3.949, 18410], "nice": false},
      "axis": {"orient": "top", "values": [10, 100, 1000, 10000], "labels": false, "ticks": true, "tickSize": -17, "tickWidth": 4, "grid": false, "title": null}},
    "x2": {"field": "e1"},
    "y": {"field": "c0", "type": "quantitative", "scale": {"type": "log", "domain": [100, 1000000], "nice": false},
      "axis": {"orient": "right", "values": [100, 1000, 10000, 100000, 1000000], "labels": false, "ticks": true, "tickSize": -17, "tickWidth": 4, "grid": false, "title": null}},
    "y2": {"field": "c1"}
  }
},
{
  "data": {"name": "notes"},
  "mark": {"type": "rule", "stroke": "#4a7ebb", "strokeWidth": 1.5},
  "encoding": {
    "x": {"field": "tE", "type": "quantitative", "scale": {"type": "log", "domain": [3.949, 18410], "nice": false},
      "axis": {"orient": "top", "values": [5,6,7,8,9,20,30,40,50,60,70,80,90,200,300,400,500,600,700,800,900,2000,3000,4000,5000,6000,7000,8000,9000], "labels": false, "ticks": true, "tickSize": -8, "tickWidth": 4, "grid": false, "title": null}},
    "x2": {"field": "hE"},
    "y": {"field": "tC", "type": "quantitative", "scale": {"type": "log", "domain": [100, 1000000], "nice": false},
      "axis": {"orient": "right", "values": [200,300,400,500,600,700,800,900,2000,3000,4000,5000,6000,7000,8000,9000,20000,30000,40000,50000,60000,70000,80000,90000,200000,300000,400000,500000,600000,700000,800000,900000], "labels": false, "ticks": true, "tickSize": -8, "tickWidth": 4, "grid": false, "title": null}},
    "y2": {"field": "hC"}
  }
},
{
  "data": {"name": "notes"},
  "transform": [{"calculate": "atan2(302.3*log(datum.hE/datum.tE), 207.75*log(datum.hC/datum.tC))*180/PI", "as": "ang"}],
  "mark": {"type": "point", "shape": "M-0.42,1L0,0L0.42,1", "size": 484, "stroke": "#4a7ebb", "strokeWidth": 1.5, "filled": false, "opacity": 1},
  "encoding": {
    "x": {"field": "hE", "type": "quantitative", "scale": {"type": "log", "domain": [3.949, 18410], "nice": false}, "axis": null},
    "y": {"field": "hC", "type": "quantitative", "scale": {"type": "log", "domain": [100, 1000000], "nice": false}, "axis": null},
    "angle": {"field": "ang", "type": "quantitative", "scale": null}
  }
},
{
  "data": {"name": "notes"},
  "transform": [{"filter": "datum.o == 'h'"}],
  "mark": {"type": "text", "align": "left", "baseline": "middle", "dx": 13, "dy": 22, "font": "Lato", "fontSize": 22, "fontWeight": "bold", "color": "#141414"},
  "encoding": {
    "x": {"field": "e0", "type": "quantitative", "scale": {"type": "log", "domain": [3.949, 18410], "nice": false}, "axis": null},
    "y": {"field": "c0", "type": "quantitative", "scale": {"type": "log", "domain": [100, 1000000], "nice": false}, "axis": null},
    "text": {"field": "l1"}
  }
},
{
  "data": {"name": "notes"},
  "transform": [{"filter": "datum.o == 'h'"}],
  "mark": {"type": "text", "align": "left", "baseline": "middle", "dx": 13, "dy": 51, "font": "Lato", "fontSize": 22, "fontWeight": "bold", "color": "#141414"},
  "encoding": {
    "x": {"field": "e0", "type": "quantitative", "scale": {"type": "log", "domain": [3.949, 18410], "nice": false}, "axis": null},
    "y": {"field": "c0", "type": "quantitative", "scale": {"type": "log", "domain": [100, 1000000], "nice": false}, "axis": null},
    "text": {"field": "l2"}
  }
},
{
  "data": {"name": "notes"},
  "transform": [{"filter": "datum.o == 'v'"}, {"calculate": "sqrt(datum.c0*datum.c1)", "as": "cm"}],
  "mark": {"type": "text", "align": "center", "baseline": "middle", "angle": 270, "dy": 22, "font": "Lato", "fontSize": 22, "fontWeight": "bold", "color": "#141414"},
  "encoding": {
    "x": {"field": "e0", "type": "quantitative", "scale": {"type": "log", "domain": [3.949, 18410], "nice": false}, "axis": null},
    "y": {"field": "cm", "type": "quantitative", "scale": {"type": "log", "domain": [100, 1000000], "nice": false}, "axis": null},
    "text": {"field": "l1"}
  }
},
{
  "data": {"name": "notes"},
  "transform": [{"filter": "datum.o == 'v'"}, {"calculate": "sqrt(datum.c0*datum.c1)", "as": "cm"}],
  "mark": {"type": "text", "align": "center", "baseline": "middle", "angle": 270, "dy": 52, "font": "Lato", "fontSize": 22, "fontWeight": "bold", "color": "#141414"},
  "encoding": {
    "x": {"field": "e0", "type": "quantitative", "scale": {"type": "log", "domain": [3.949, 18410], "nice": false}, "axis": null},
    "y": {"field": "cm", "type": "quantitative", "scale": {"type": "log", "domain": [100, 1000000], "nice": false}, "axis": null},
    "text": {"field": "l2"}
  }
}
]
}
